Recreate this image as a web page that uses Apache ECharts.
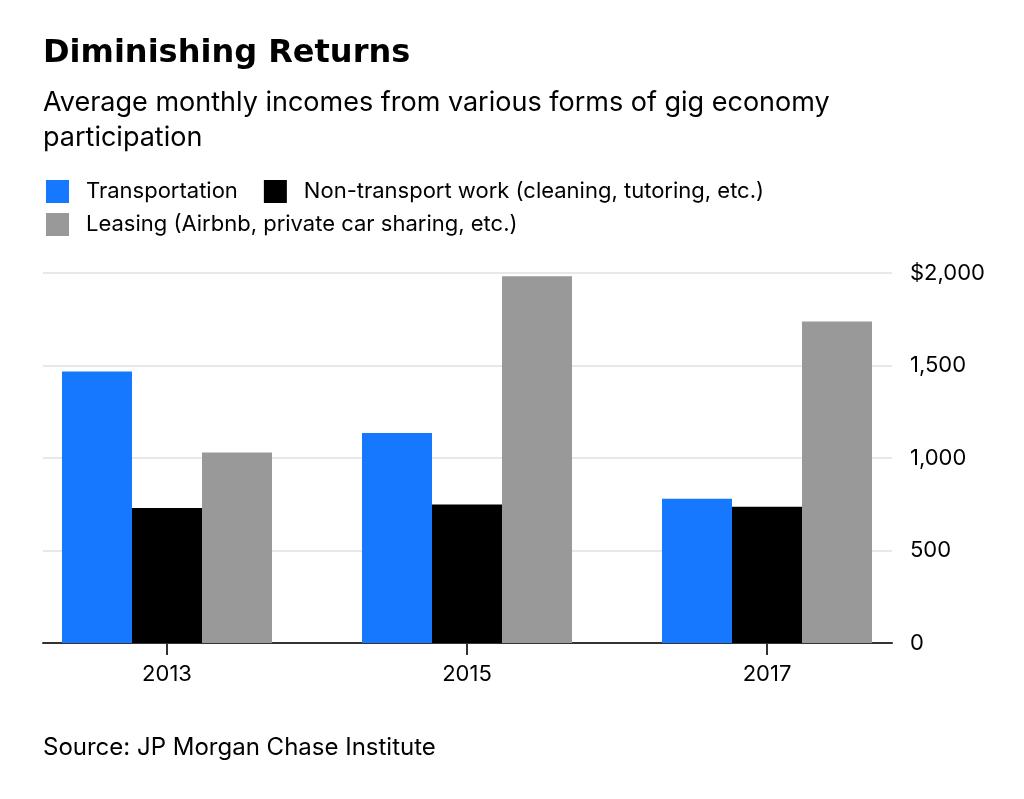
<!DOCTYPE html>
<html>
<head>
<meta charset="utf-8">
<script src="https://cdn.jsdelivr.net/npm/echarts@6/dist/echarts.min.js"></script>
<style>
html,body{margin:0;padding:0;background:#fff;}
#c{width:1024px;height:799px;}
</style>
</head>
<body>
<div id="c"></div>
<script>
const years = ['2013', '2015', '2017'];
const seriesNames = ['Transportation', 'Non-transport work (cleaning, tutoring, etc.)', 'Leasing (Airbnb, private car sharing, etc.)'];
const transportation = [1468, 1135, 780];
const nonTransport = [730, 749, 737];
const leasing = [1030, 1982, 1738];
const yTicks = [0, 500, 1000, 1500, 2000];
const colors = ['#1677ff', '#000000', '#999999'];

const FONT = 'Inter, "Liberation Sans", sans-serif';
const TITLE_FONT = '"DejaVu Sans", Inter, sans-serif';
const chart = echarts.init(document.getElementById('c'), null, {renderer: 'canvas'});

const values = [transportation, nonTransport, leasing];

chart.setOption({
  animation: false,
  backgroundColor: '#ffffff',
  textStyle: {fontFamily: FONT},
  title: [
    {text: 'Diminishing Returns', left: 38, top: 33,
     textStyle: {fontFamily: TITLE_FONT, fontWeight: 'bold', fontSize: 32, color: '#000'}},
    {text: 'Average monthly incomes from various forms of gig economy\nparticipation', left: 38, top: 80,
     textStyle: {fontFamily: FONT, fontWeight: 'normal', fontSize: 27, lineHeight: 35, color: '#000'}},
    {text: 'Source: JP Morgan Chase Institute', left: 38, top: 731,
     textStyle: {fontFamily: FONT, fontWeight: 'normal', fontSize: 24, color: '#000'}}
  ],
  legend: [
    {data: [seriesNames[0], seriesNames[1]], left: 41, top: 175, orient: 'horizontal',
     itemWidth: 23, itemHeight: 23, itemGap: 26, icon: 'rect',
     textStyle: {fontFamily: FONT, fontSize: 22, color: '#000', padding: [0, 0, 0, 12]}},
    {data: [seriesNames[2]], left: 41, top: 208, orient: 'horizontal',
     itemWidth: 23, itemHeight: 23, itemGap: 26, icon: 'rect',
     textStyle: {fontFamily: FONT, fontSize: 22, color: '#000', padding: [0, 0, 0, 12]}}
  ],
  grid: [
    {left: 17, right: 107, top: 273, bottom: 156, containLabel: false},
    {left: 43, right: 132, top: 273, bottom: 156, containLabel: false}
  ],
  xAxis: [
    {type: 'category', gridIndex: 0, data: years,
     axisLine: {show: false},
     axisTick: {show: true, alignWithLabel: true, length: 12, lineStyle: {color: '#333', width: 2}},
     axisLabel: {margin: 20, fontFamily: FONT, fontSize: 22, color: '#000'}},
    {type: 'value', gridIndex: 1, min: 0, max: 1, show: true,
     axisLine: {show: true, onZero: false, lineStyle: {color: '#333', width: 2}},
     axisTick: {show: false}, axisLabel: {show: false}, splitLine: {show: false}}
  ],
  yAxis: [
    {type: 'value', gridIndex: 0, min: 0, max: 2000, interval: 500, show: false,
     splitLine: {show: false}},
    {type: 'value', gridIndex: 1, min: 0, max: 2000, interval: 500, position: 'right',
     axisLine: {show: false}, axisTick: {show: false},
     axisLabel: {margin: 18, fontFamily: FONT, fontSize: 22, color: '#000',
       formatter: function (v) {
         const s = v.toLocaleString('en-US');
         return v === yTicks[yTicks.length - 1] ? '$' + s : s;
       }},
     splitLine: {show: true, lineStyle: {color: '#e8e8e8', width: 2}}}
  ],
  series: seriesNames.map(function (name, i) {
    return {
      name: name, type: 'bar', xAxisIndex: 0, yAxisIndex: 0,
      data: values[i], barWidth: 70, barGap: '0%',
      itemStyle: {color: colors[i]}, z: 3
    };
  })
});
</script>
</body>
</html>
